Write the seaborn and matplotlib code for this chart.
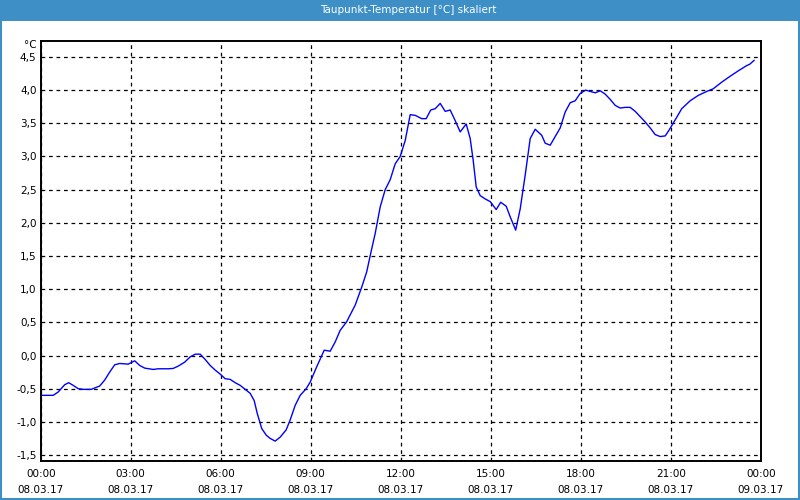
import matplotlib
matplotlib.use("Agg")
import matplotlib.pyplot as plt
from matplotlib.patches import Rectangle
from matplotlib.ticker import FixedLocator, MultipleLocator, FuncFormatter
import seaborn as sns
import pandas as pd

# ---- data (minutes since 08.03.17 00:00, dew point in °C) ----
minutes = [0, 25, 35, 48, 56, 65, 75, 85, 101, 118, 128, 138, 148, 158, 175,
           188, 198, 208, 225, 235, 255, 265, 275, 288, 299, 309, 319, 329,
           339, 349, 359, 369, 379, 389, 399, 409, 419, 427, 433, 442, 451,
           459, 469, 479, 491, 499, 509, 519, 531, 539, 552, 567, 579, 589,
           599, 612, 629, 642, 652, 660, 669, 679, 689, 699, 709, 719, 729,
           739, 749, 762, 771, 780, 789, 799, 809, 819, 829, 839, 851, 859,
           865, 871, 879, 889, 899, 911, 920, 931, 939, 950, 959, 969, 979,
           989, 1002, 1009, 1019, 1029, 1039, 1049, 1059, 1069, 1079, 1090,
           1099, 1109, 1119, 1129, 1139, 1149, 1159, 1169, 1179, 1189, 1199,
           1209, 1219, 1229, 1239, 1249, 1257, 1272, 1282, 1299, 1315, 1332,
           1345, 1362, 1379, 1395, 1412, 1418, 1427]
dewpoint = [-0.60, -0.60, -0.55, -0.44, -0.41, -0.45, -0.50, -0.51, -0.51,
            -0.46, -0.37, -0.25, -0.14, -0.12, -0.13, -0.08, -0.15, -0.19,
            -0.21, -0.20, -0.20, -0.195, -0.16, -0.10, -0.02, 0.02, 0.02,
            -0.06, -0.15, -0.22, -0.28, -0.35, -0.36, -0.41, -0.45, -0.51,
            -0.57, -0.68, -0.87, -1.10, -1.20, -1.25, -1.29, -1.23, -1.12,
            -0.97, -0.75, -0.60, -0.50, -0.40, -0.17, 0.08, 0.065, 0.205,
            0.38, 0.51, 0.76, 1.03, 1.26, 1.54, 1.84, 2.24, 2.50, 2.65, 2.89,
            3.00, 3.24, 3.63, 3.62, 3.57, 3.57, 3.70, 3.72, 3.80, 3.68, 3.70,
            3.54, 3.37, 3.49, 3.27, 2.94, 2.54, 2.41, 2.36, 2.32, 2.20, 2.31,
            2.25, 2.09, 1.89, 2.21, 2.72, 3.27, 3.41, 3.32, 3.20, 3.17, 3.30,
            3.43, 3.67, 3.81, 3.84, 3.95, 4.00, 3.98, 3.96, 3.99, 3.94, 3.86,
            3.77, 3.73, 3.74, 3.74, 3.68, 3.60, 3.52, 3.43, 3.33, 3.30, 3.31,
            3.40, 3.59, 3.72, 3.84, 3.92, 3.98, 4.02, 4.12, 4.21, 4.29, 4.37,
            4.39, 4.45]

tick_hours = [0, 3, 6, 9, 12, 15, 18, 21, 24]
tick_times = ["00:00", "03:00", "06:00", "09:00", "12:00", "15:00", "18:00", "21:00", "00:00"]
tick_dates = ["08.03.17"] * 8 + ["09.03.17"]
y_ticks = [-1.5, -1.0, -0.5, 0.0, 0.5, 1.0, 1.5, 2.0, 2.5, 3.0, 3.5, 4.0, 4.5]

title = "Taupunkt-Temperatur [°C] skaliert"
unit = "°C"

df = pd.DataFrame({"hours": [m / 60 for m in minutes], "value": dewpoint})

sns.set_style("white")
plt.rcParams["font.family"] = ["DejaVu Sans"]

fig = plt.figure(figsize=(8, 5), dpi=100, facecolor="white")
ax = fig.add_axes([40.7 / 800, 1 - 461 / 500, (760.7 - 40.7) / 800, (461 - 40.7) / 500])

sns.lineplot(data=df, x="hours", y="value", ax=ax, color="#0000ff",
             linewidth=1.0, estimator=None, sort=False)

ax.set_xlim(0, 24)
ax.set_ylim(-1.59, 4.745)
ax.set_xlabel("")
ax.set_ylabel("")

ax.xaxis.set_major_locator(FixedLocator(tick_hours))
ax.xaxis.set_minor_locator(MultipleLocator(1))
ax.set_xticklabels([f"{t}\n{d}" for t, d in zip(tick_times, tick_dates)],
                   fontsize=7.5, linespacing=1.75)
ax.yaxis.set_major_locator(FixedLocator(y_ticks))
ax.yaxis.set_major_formatter(FuncFormatter(lambda v, p: f"{v:.1f}".replace(".", ",")))

ax.tick_params(axis="y", which="both", length=0, pad=3, labelsize=7.5, colors="black")
ax.tick_params(axis="x", which="both", direction="in", length=3, width=1,
               pad=6, labelsize=7.5, colors="black")

ax.grid(True, which="major", axis="both", color="black", linestyle=(0, (3, 3)),
        linewidth=0.9)
ax.set_axisbelow(True)
for s in ax.spines.values():
    s.set_visible(True)
    s.set_color("black")
    s.set_linewidth(1.4)

ax.text(-0.005, 4.68, unit, transform=ax.get_yaxis_transform(), ha="right",
        va="center", fontsize=7.5, color="black")

# title bar and window frame
fig.patches.append(Rectangle((0, 1 - 21 / 500), 1, 21 / 500, transform=fig.transFigure,
                             facecolor="#3d8fc6", edgecolor="none", zorder=0))
fig.patches.append(Rectangle((0.0008, 0.002), 0.9984, 0.996, transform=fig.transFigure,
                             facecolor="none", edgecolor="#3d8fc6", linewidth=1.5, zorder=5))
fig.text(0.51, 1 - 10 / 500, title, ha="center", va="center", color="white",
         fontsize=7.5)

fig.savefig("out.png", dpi=100, facecolor="white")
